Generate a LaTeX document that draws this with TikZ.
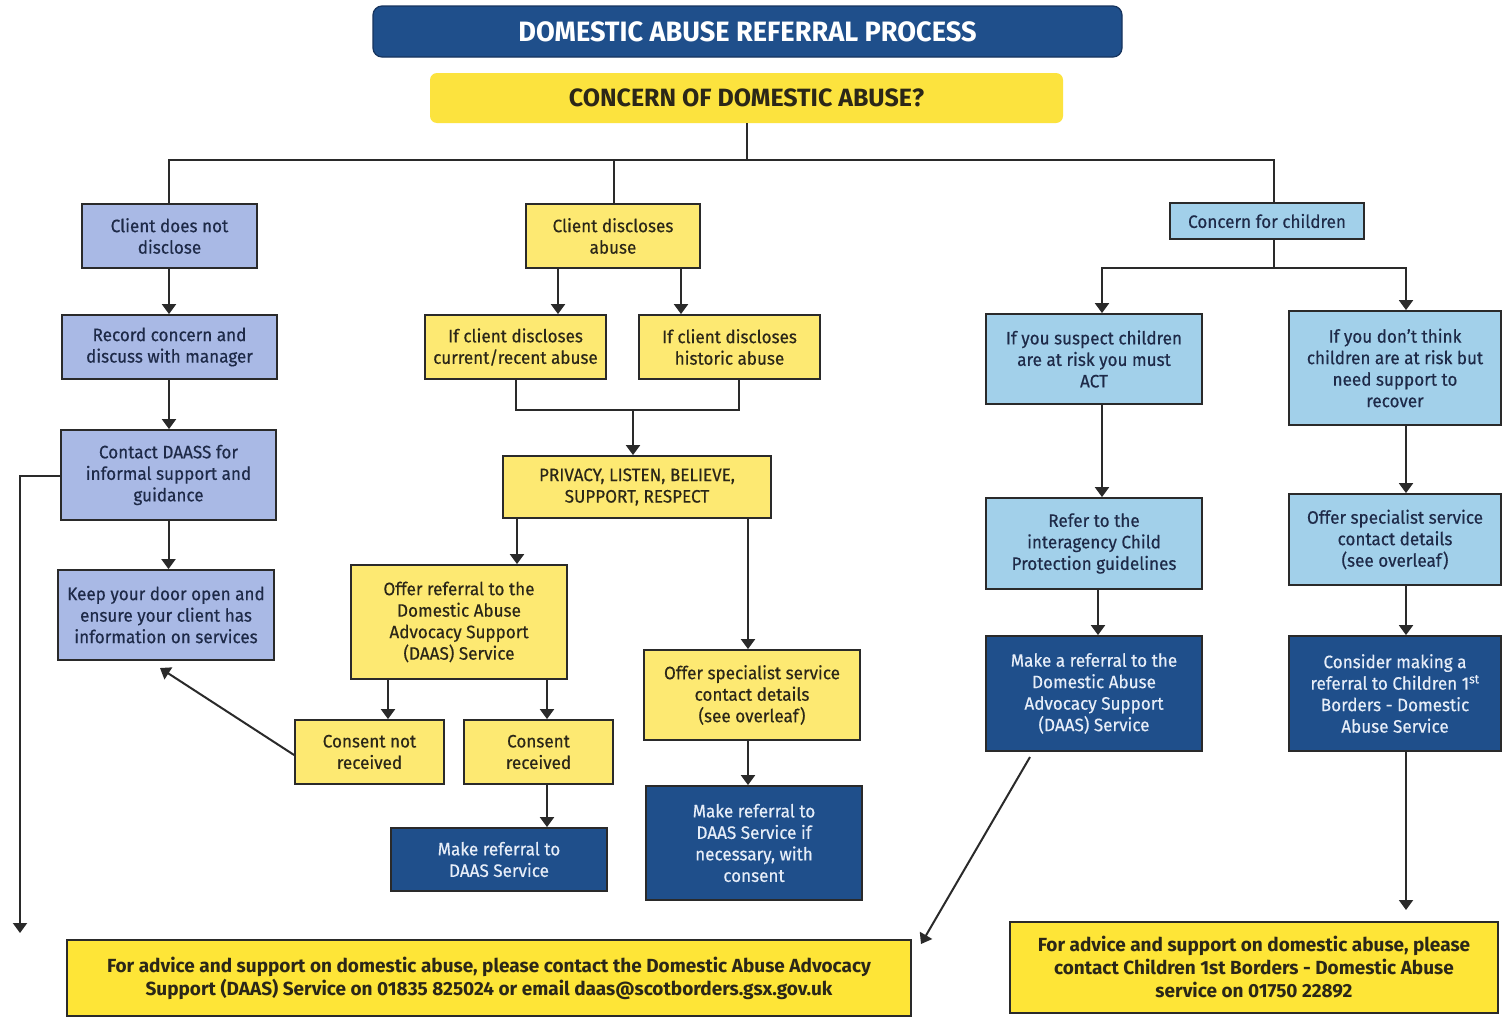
\documentclass[tikz,border=0pt]{standalone}
\usepackage{fontspec}
\setmainfont{Fira Sans}[FakeStretch=0.95,FakeBold=0.4]
\newfontfamily\titlefont{Fira Sans}[FakeStretch=0.97]
\newfontfamily\headfont{Fira Sans}[FakeStretch=1.0]
\newfontfamily\botfont{Fira Sans}[FakeStretch=1.0]
\usetikzlibrary{arrows.meta}
\definecolor{dblue}{HTML}{1F4F8B}
\definecolor{dblueedge}{HTML}{16345E}
\definecolor{peri}{HTML}{A9B9E5}
\definecolor{sky}{HTML}{A2D0EA}
\definecolor{ybox}{HTML}{FDE972}
\definecolor{yhead}{HTML}{FCE33E}
\definecolor{ybot}{HTML}{FEE537}
\definecolor{navytext}{HTML}{1E2A48}
\definecolor{browntext}{HTML}{2B2718}
\definecolor{lighttext}{HTML}{E6EDF8}
\definecolor{linec}{HTML}{2A2A2A}
\tikzset{
  boxbase/.style={draw=linec, line width=1.8pt, rectangle, inner sep=0pt, align=center,
    font=\fontsize{18}{21.5}\selectfont},
  peribox/.style={boxbase, fill=peri, text=navytext},
  skybox/.style={boxbase, fill=sky, text=navytext},
  ylbox/.style={boxbase, fill=ybox, text=browntext},
  dkbox/.style={boxbase, fill=dblue, text=lighttext},
  botbox/.style={boxbase, fill=ybot, text=browntext, font=\botfont\bfseries\fontsize{19}{23}\selectfont},
  ln/.style={draw=linec, line width=2pt},
  arr/.style={ln, -{Triangle[width=14pt,length=10pt]}},
}
\begin{document}
\begin{tikzpicture}[x=1pt,y=-1pt]
\fill[white] (0,0) rectangle (1502,1017);
\useasboundingbox (0,0) rectangle (1502,1017);

% headers
\node[fill=dblue, draw=dblueedge, line width=1.2pt, rounded corners=9pt, minimum width=749pt, minimum height=51pt,
  text=white, font=\titlefont\bfseries\fontsize{28}{30}\selectfont] (title) at (747.5,31.5) {DOMESTIC ABUSE REFERRAL PROCESS};
\node[fill=yhead, rounded corners=7pt, minimum width=633pt, minimum height=50pt,
  text=browntext, font=\headfont\bfseries\fontsize{25}{28}\selectfont] (head) at (746.5,98) {CONCERN OF DOMESTIC ABUSE?};

% left column
\node[peribox, minimum width=175pt, minimum height=64pt] (cnd) at (169.5,236) {Client does not\\disclose};
\node[peribox, minimum width=215pt, minimum height=64pt] (rec) at (169.5,347) {Record concern and\\discuss with manager};
\node[peribox, minimum width=215pt, minimum height=90pt] (con) at (168.5,475) {Contact DAASS for\\informal support and\\guidance};
\node[peribox, minimum width=216pt, minimum height=90pt] (keep) at (166,615) {Keep your door open and\\ensure your client has\\information on services};

% middle column
\node[ylbox, minimum width=174pt, minimum height=64pt] (cd) at (613,236) {Client discloses\\abuse};
\node[ylbox, minimum width=181pt, minimum height=64pt] (cur) at (515.5,347) {If client discloses\\current/recent abuse};
\node[ylbox, minimum width=181pt, minimum height=64pt] (his) at (729.5,347) {If client discloses\\historic abuse};
\node[ylbox, minimum width=268pt, minimum height=62pt] (priv) at (637,487) {PRIVACY, LISTEN, BELIEVE,\\SUPPORT, RESPECT};
\node[ylbox, minimum width=216pt, minimum height=114pt] (offr) at (459,622) {Offer referral to the\\Domestic Abuse\\Advocacy Support\\(DAAS) Service};
\node[ylbox, minimum width=216pt, minimum height=90pt] (spec) at (752,695) {Offer specialist service\\contact details\\(see overleaf)};
\node[dkbox, minimum width=216pt, minimum height=114pt] (mk2) at (754,843) {Make referral to\\DAAS Service if\\necessary, with\\consent};
\node[ylbox, minimum width=149pt, minimum height=64pt] (cnr) at (369.5,752) {Consent not\\received};
\node[ylbox, minimum width=149pt, minimum height=64pt] (cr) at (538.5,752) {Consent\\received};
\node[dkbox, minimum width=216pt, minimum height=63pt] (mk1) at (499,859.5) {Make referral to\\DAAS Service};

% right column
\node[skybox, minimum width=194pt, minimum height=36pt] (cfc) at (1267,221) {Concern for children};
\node[skybox, minimum width=216pt, minimum height=90pt] (sus) at (1094,359) {If you suspect children\\are at risk you must\\ACT};
\node[skybox, minimum width=212pt, minimum height=114pt] (dont) at (1395,368) {If you don't think\\children are at risk but\\need support to\\recover};
\node[skybox, minimum width=216pt, minimum height=91pt] (refer) at (1094,543.5) {Refer to the\\interagency Child\\Protection guidelines};
\node[skybox, minimum width=212pt, minimum height=91pt] (offs) at (1395,539.5) {Offer specialist service\\contact details\\(see overleaf)};
\node[dkbox, minimum width=216pt, minimum height=115pt] (mkr) at (1094,693.5) {Make a referral to the\\Domestic Abuse\\Advocacy Support\\(DAAS) Service};
\node[dkbox, minimum width=212pt, minimum height=115pt] (cons) at (1395,693.5) {Consider making a\\referral to Children 1\textsuperscript{st}\\Borders - Domestic\\Abuse Service};

% bottom boxes
\node[botbox, minimum width=844pt, minimum height=76pt] (botL) at (489,978)
  {For advice and support on domestic abuse, please contact the Domestic Abuse Advocacy\\Support (DAAS) Service on 01835 825024 or email daas@scotborders.gsx.gov.uk};
\node[botbox, minimum width=488pt, minimum height=91pt] (botR) at (1254,967.5)
  {For advice and support on domestic abuse, please\\contact Children 1st Borders - Domestic Abuse\\service on 01750 22892};

% free ends
\coordinate (endL) at (20,933);
\coordinate (endKeep) at (160,668);
\coordinate (endDiag) at (921,944);
\coordinate (endR) at (1406,910);
\coordinate (startDiag) at (1030,757);

% top tree
\draw[ln] (head.south) -- (head.south |- 0,160);
\draw[ln] (169,0 |- cnd.north) -- (169,160) -- (1274,160) -- (1274,0 |- cfc.north);
\draw[ln] (614,0 |- cd.north) -- (614,160);

% left column
\draw[arr] (169,0 |- cnd.south) -- (169,0 |- rec.north);
\draw[arr] (169,0 |- rec.south) -- (169,0 |- con.north);
\draw[arr] (168.5,0 |- con.south) -- (168.5,0 |- keep.north);
\draw[arr] (con.west |- 0,476) -- (20,476) -- (endL);

% middle column
\draw[arr] (558,0 |- cd.south) -- (558,0 |- cur.north);
\draw[arr] (681,0 |- cd.south) -- (681,0 |- his.north);
\draw[ln] (516,0 |- cur.south) -- (516,410) -- (739,410) -- (739,0 |- his.south);
\draw[arr] (633,410) -- (633,0 |- priv.north);
\draw[arr] (517,0 |- priv.south) -- (517,0 |- offr.north);
\draw[arr] (748,0 |- priv.south) -- (748,0 |- spec.north);
\draw[arr] (748,0 |- spec.south) -- (748,0 |- mk2.north);
\draw[arr] (388,0 |- offr.south) -- (388,0 |- cnr.north);
\draw[arr] (547,0 |- offr.south) -- (547,0 |- cr.north);
\draw[arr] (547,0 |- cr.south) -- (547,0 |- mk1.north);
\draw[arr] (cnr.west |- 0,755) -- (endKeep);

% right column
\draw[ln] (1274,0 |- cfc.south) -- (1274,268);
\draw[arr] (1102,268) -- (1406,268) -- (1406,0 |- dont.north);
\draw[arr] (1274,268) -- (1102,268) -- (1102,0 |- sus.north);
\draw[arr] (1102,0 |- sus.south) -- (1102,0 |- refer.north);
\draw[arr] (1098,0 |- refer.south) -- (1098,0 |- mkr.north);
\draw[arr] (1406,0 |- dont.south) -- (1406,0 |- offs.north);
\draw[arr] (1406,0 |- offs.south) -- (1406,0 |- cons.north);
\draw[arr] (1406,0 |- cons.south) -- (endR);
\draw[arr] (startDiag) -- (endDiag);
\end{tikzpicture}
\end{document}
